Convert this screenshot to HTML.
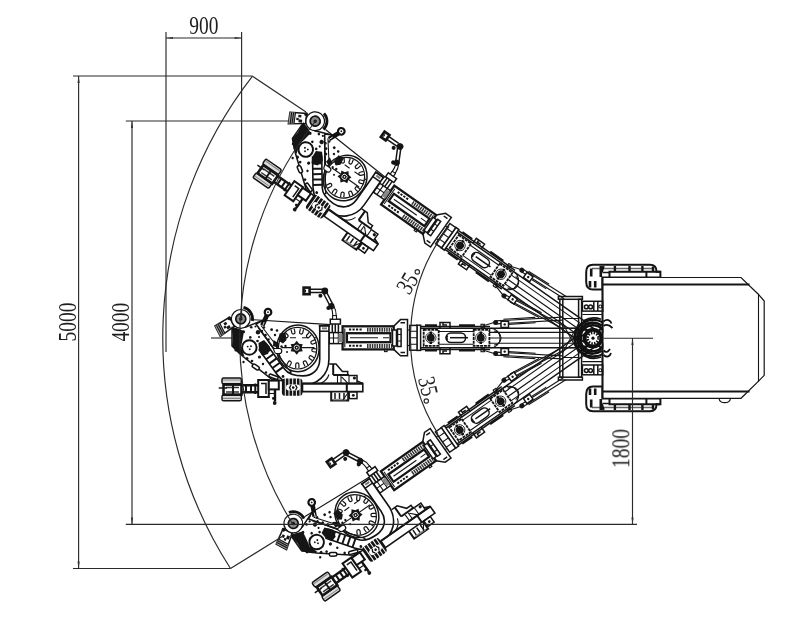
<!DOCTYPE html>
<html><head><meta charset="utf-8"><title>Drilling rig coverage</title>
<style>
html,body{margin:0;padding:0;background:#fff;}
body{width:800px;height:617px;overflow:hidden;font-family:"Liberation Serif",serif;}
svg{display:block}
.l *{fill:none;stroke:#151515;stroke-width:1.1;}
.l .w15{stroke-width:1.5}
.l .w2{stroke-width:2}
.l .k{fill:#fff}
.d,.d *{fill:#151515;stroke:none}
.m *{fill:none;stroke:#2a2a2a;stroke-width:1.15}
.t text{font-family:"Liberation Serif",serif;font-size:24.6px;fill:#1e1e1e;}
</style></head><body>
<svg width="800" height="617" viewBox="0 0 800 617">
<rect width="800" height="617" style="fill:#fff"/>
<defs><filter id="nf" x="-5%" y="-5%" width="110%" height="110%"><feColorMatrix type="saturate" values="0"/></filter><g id="arm">
<g class="l">
<path d="M420.6 326.4H490 M420.6 349.4H490" class="w15"/>
<path d="M420.6 328.3H577 M420.6 347.7H577" class="w15"/>
<path d="M489 332.4H577 M489 338H577 M489 343.3H577"/>
<path d="M439 331.5H473 M439 344.2H473"/>
<path d="M490.5 328.3A9.7 9.7 0 0 1 490.5 347.7"/>
<path d="M494 331A7 7 0 0 1 494 345"/>
<path d="M482.5 326L495 322.2 M482.5 350L495 353.8"/>
<rect x="501" y="321.3" width="7.5" height="6.2" class="k w15"/><rect x="501" y="348.5" width="7.5" height="6.2" class="k w15"/>
<rect x="481" y="324.3" width="3.4" height="3"/><rect x="481" y="348.7" width="3.4" height="3"/>
</g>
<circle class="d" cx="495.6" cy="322.4" r="2.5"/><circle class="d" cx="495.6" cy="353.6" r="2.5"/>
<circle class="d" cx="504.7" cy="324.4" r="1.2"/><circle class="d" cx="504.7" cy="351.6" r="1.2"/>
<g class="l">
<rect x="416.9" y="325.2" width="3.7" height="25.2" class="k w15"/>
<rect x="423.7" y="329.8" width="15" height="16" style="stroke-dasharray:3 0.8;stroke-width:1.8"/>
<rect x="473.7" y="329.8" width="15.7" height="16" style="stroke-dasharray:3 0.8;stroke-width:1.8"/>
<rect x="446.2" y="333" width="19.4" height="9.5" rx="4.7" class="w15"/>
<path d="M450 337.7H468" class="w15"/>
<path d="M447.5 335.5A3 3 0 0 0 447.5 340" style="stroke-width:2.2"/>
<path d="M440 328V322.4H450V328 M443 322.4V325H447 M440 347.7V353.8H450V347.7 M443 353.8V351H447" class="w15"/>
<path d="M425 325.3H437 M459 325.3H475 M425 350.5H437 M459 350.5H475" class="w2"/>
</g>
<circle cx="430.8" cy="337.7" r="5.2" style="fill:none;stroke:#222;stroke-width:0.9"/>
<circle class="d" cx="430.8" cy="337.7" r="3.9"/>
<path d="M430.8 331.5V334 M430.8 341.5V344" style="stroke:#111;stroke-width:2.4"/>
<circle cx="480.8" cy="337.7" r="5.2" style="fill:none;stroke:#222;stroke-width:0.9"/>
<circle class="d" cx="480.8" cy="337.7" r="3.9"/>
<path d="M480.8 331.5V334 M480.8 341.5V344" style="stroke:#111;stroke-width:2.4"/>
<g class="l">
<rect x="409.8" y="325.4" width="7.2" height="24.8" class="k w15"/>
<path d="M409.8 331.2H417 M409.8 337.7H417 M409.8 344.2H417"/>
<path d="M407.5 330H409.8 M407.5 345.5H409.8"/>
<path d="M393.7 326.3L400.5 319.6H407.5V355.8H400.5L393.7 349.4" class="k w15"/>
<path d="M400.5 322.8H405 M400.5 352.6H405" class="w15"/>
<rect x="342.6" y="326.3" width="51.1" height="23.1" class="k" style="stroke-width:2.3"/>
<rect x="346.9" y="333.2" width="43.6" height="9" class="k" style="stroke-width:2.3"/>
<path d="M349 329.6H363" class="w2" style="stroke-dasharray:2.2 1.3"/>
<path d="M367 329.8H392" style="stroke-dasharray:1.5 0.9;stroke-width:4;stroke:#333"/>
<path d="M349 345.8H363" class="w2" style="stroke-dasharray:2.2 1.3"/>
<path d="M367 346H392" style="stroke-dasharray:1.5 0.9;stroke-width:4;stroke:#333"/>
<path d="M350 337.7H378 M383 337.7H389"/>
<rect x="392.5" y="330" width="4" height="16" class="k w15"/>
<rect x="397.5" y="329" width="3.6" height="17.5" class="w15"/>
<path d="M397.5 334.5H401 M397.5 341H401"/>
<path d="M344.8 328.5V347.2"/>
<rect x="384.5" y="349.4" width="2.6" height="2.2"/>
<rect x="329.3" y="332.6" width="13.3" height="11" class="k w15"/>
<path d="M333.5 332.6V343.6 M338.3 332.6V343.6 M329.3 338H342.6"/>
<rect x="338.4" y="334" width="4.2" height="8" style="fill:#888;stroke:none"/>
</g>
<g class="l">
<rect x="330.3" y="319.2" width="10.1" height="4.8" class="k w15"/>
<path d="M332.3 324V332.6 M338.4 324V332.6 M335.3 324V332.6" class="w15"/>
<path d="M332.8 319.2V316C332.8 312 332 309 330.9 306.6 M336.3 319.2V316C336.3 311 335 308 333.3 305"/>
<rect x="332.6" y="315.6" width="3.9" height="3.6" class="k"/>
<path d="M329.8 305.5L323.3 293 M332.8 304.3L326.5 292" class="w15"/>
<path d="M310 289.2H322 M310 292.6H322" class="w15"/>
<rect x="303.6" y="287.6" width="6" height="6.6" class="k" style="stroke-width:2.6"/>
<path d="M305.5 289.6V292.4"/>
</g>
<circle class="d" cx="324.8" cy="291" r="3.4"/><circle class="d" cx="331.4" cy="306.2" r="3.1"/>
<circle class="d" cx="320.4" cy="295.8" r="2"/><circle class="d" cx="328.4" cy="308" r="2.1"/>
<g class="l">
<polygon class="k w15" points="232,326 246,327 262.5,320.5 256,324 291,372 284,381 272,379.5 243,356.5 232,346"/>
</g>
<path d="M324.35 326V359C324.35 373 314 380.5 303 380.5C292 380.5 285 377.5 281 372L262.5 346.5" style="fill:none;stroke:#111;stroke-width:10.8;stroke-linecap:butt"/>
<path d="M324.35 326V359C324.35 373 314 380.5 303 380.5C292 380.5 285 377.5 281 372L262.5 346.5" style="fill:none;stroke:#fff;stroke-width:7.6;stroke-linecap:butt"/>
<g class="l">
<path d="M318.75 325.8H329.95" class="w2"/>
<path d="M319.7 331.2H329" class="w15"/>
<path d="M322 328.4H327" style="stroke:#777;stroke-width:2"/>
<path d="M254 319.8L330.3 324.6"/>
</g>
<g class="l">
<ellipse cx="297.9" cy="348.3" rx="21.2" ry="23.4" class="k w15"/>
<ellipse cx="297.6" cy="348.2" rx="19.2" ry="20.8" style="stroke-width:1.2"/>
<path d="M316.77 352.16L313.19 351.73A1.6 1.6 0 0 1 313.58 348.55L317.15 348.98M312.7 360.75L309.73 358.71A1.6 1.6 0 0 1 311.55 356.07L314.51 358.12M305.1 366.47L303.42 363.28A1.6 1.6 0 0 1 306.26 361.79L307.93 364.98M295.72 368L295.71 364.4A1.6 1.6 0 0 1 298.91 364.4L298.92 368M286.7 365L288.37 361.81A1.6 1.6 0 0 1 291.2 363.29L289.53 366.48M285.35 332.33L287.74 335.02A1.6 1.6 0 0 1 285.35 337.15L282.96 334.45M294.1 328.6L294.96 332.09A1.6 1.6 0 0 1 291.86 332.86L290.99 329.36M303.58 329.35L302.72 332.85A1.6 1.6 0 0 1 299.61 332.09L300.47 328.59M311.62 334.43L309.23 337.13A1.6 1.6 0 0 1 306.83 335.01L309.22 332.31M316.38 342.66L313.01 343.94A1.6 1.6 0 0 1 311.87 340.95L315.24 339.67" style="stroke-width:1.2"/>
<path d="M283.5 337.7H316" style="stroke-dasharray:6 6;stroke-dashoffset:-6.5"/>
<path d="M281.5 347.6H314.5"/>
</g>
<g class="d"><polygon points="302.76,351.2 299.05,351.77 296.7,354.7 294.35,351.77 290.64,351.2 292,347.7 290.64,344.2 294.35,343.63 296.7,340.7 299.05,343.63 302.76,344.2 301.4,347.7"/></g>
<circle cx="296.7" cy="347.7" r="2.6" style="fill:none;stroke:#fff;stroke-width:0.8"/>
<circle cx="296.7" cy="347.7" r="0.8" style="fill:#fff"/>
<g class="l">
<polygon class="k w15" points="215,326 229.4,317.4 234.3,326.4 220.3,336.4"/>
<polygon points="215,326 219.4,323.4 225.3,333 220.3,336.4" style="fill:#999;stroke:none"/>
<path d="M216.5 325.2L221.8 335.4 M218.2 324.2L223.3 334.3 M219.8 323.2L225 333.4"/>
<path d="M258 327.5L289 370 M261 325.5L279 349"/>
</g>
<g class="d"><rect x="224" y="322.5" width="3" height="2.6" transform="rotate(-30 225 324)"/><rect x="226.5" y="326" width="3.6" height="3" transform="rotate(-30 228 327)"/><rect x="223.6" y="326.5" width="2.4" height="2.4" transform="rotate(-30 224 327)"/><circle cx="229.4" cy="318.4" r="1.9"/></g>
<polygon class="d" points="231.5,326.5 238,328.5 244,331 242.5,340 241,347 244.5,356.5 239,354 232,346.5 233,338"/>
<polygon class="d" points="258.5,343 264,340 270,347 268,354 262,355.5 259,350"/>
<polygon class="d" points="279.5,333.5 285.5,332.5 286.5,340 283,343.5 279,341"/>
<polygon class="d" points="273.5,340 279,343.5 277.5,347.5 273,346"/>
<g class="l" transform="translate(271.7 359.2) rotate(54)">
<path d="M-14 -4.5V4.5 M-8.6 -4.5V4.5 M-3.2 -4.5V4.5 M2.2 -4.5V4.5 M7.6 -4.5V4.5 M13 -4.5V4.5" class="w2"/>
<path d="M-16 -7.6H16" />
</g>
<path d="M273.5 348.5H279.5C282.5 348.5 282.5 353.5 279.5 353.5H276.5C274.5 353.5 274 351 273.5 348.5Z" style="fill:#fff;stroke:#111;stroke-width:1.2"/>
<rect x="252" y="365.2" width="7.6" height="3.6" rx="1.8" transform="rotate(32 255.8 367)" style="fill:#fff;stroke:#111;stroke-width:1.5"/>
<rect x="269" y="375" width="9.5" height="3" rx="1.5" transform="rotate(20 273 376)" style="fill:#fff;stroke:#111;stroke-width:1.5"/>
<g class="d">
<circle cx="251.2" cy="327.3" r="1.3"/>
<circle cx="243.6" cy="331.7" r="1.5"/>
<circle cx="258" cy="332.2" r="2.2"/>
<circle cx="250.3" cy="337.4" r="1.3"/>
<circle cx="257.5" cy="341" r="1.3"/>
<circle cx="265.5" cy="343.8" r="1.3"/>
<circle cx="265.5" cy="335" r="1.3"/>
<circle cx="271.6" cy="329.7" r="1.4"/>
<circle cx="247" cy="358.5" r="1.5"/>
<circle cx="252" cy="361" r="1.3"/>
<circle cx="259.5" cy="357" r="1.6"/>
<circle cx="264" cy="327.5" r="1.2"/>
<circle cx="275" cy="335" r="1.2"/>
<circle cx="285.5" cy="346" r="1.2"/>
<circle cx="287" cy="352" r="1"/>
<circle cx="236" cy="350" r="1.6"/>
<circle cx="283" cy="376.5" r="1.4"/>
<circle cx="266" cy="372.5" r="1.3"/>
<circle cx="246.5" cy="323.5" r="1.2"/>
<circle cx="255.5" cy="326.5" r="1.1"/>
<circle cx="262" cy="331" r="1.2"/>
<circle cx="254" cy="344.5" r="1.2"/>
<circle cx="259" cy="337" r="1.1"/>
<circle cx="268.5" cy="339.5" r="1.3"/>
<circle cx="277" cy="330.5" r="1.3"/>
<circle cx="281.5" cy="346.5" r="1.2"/>
<circle cx="243.5" cy="362" r="1.2"/>
<circle cx="263" cy="364" r="1.2"/>
</g>
<path d="M243.5 307.4A11.8 11.8 0 0 1 252.4 321" style="fill:none;stroke:#111;stroke-width:2.8"/>
<circle cx="240.8" cy="318.9" r="9.4" style="fill:#fff;stroke:#111;stroke-width:1.2"/>
<circle cx="240.8" cy="318.9" r="5" style="fill:#8a8a8a;stroke:#111;stroke-width:1.7"/>
<circle cx="240.8" cy="318.9" r="1.7" class="d"/>
<circle cx="249.3" cy="347.5" r="7.3" style="fill:#fff;stroke:#111;stroke-width:2"/>
<g class="d"><circle cx="247.7" cy="346.6" r="0.95"/><circle cx="251" cy="346.3" r="0.95"/><circle cx="249.7" cy="349.3" r="0.95"/></g>
<path d="M267.3 314.5L262.3 325.5" style="stroke:#111;stroke-width:4.6;fill:none"/>
<path d="M264.2 322L262.8 325.5" style="stroke:#fff;stroke-width:0.8;fill:none"/>
<circle cx="268" cy="312.2" r="3.3" style="fill:#fff;stroke:#111;stroke-width:2.2"/>
<circle cx="268" cy="312.2" r="0.9" class="d"/>
<g class="l">
<path class="k" d="M302.5 383.6H362.8V391.6H302.5Z" style="stroke-width:1.6"/>
<path d="M302.5 383.4H362.8" class="w2"/>
<path d="M346.8 383.4V391.6" class="w2"/>
<rect x="222" y="378" width="19.3" height="5.8" rx="1.6" style="fill:#ddd" class="w15"/>
<rect x="222" y="395" width="19.3" height="5.8" rx="1.6" style="fill:#ddd" class="w15"/>
<path d="M223 380H240 M223 398.4H240" style="stroke:#888"/>
<rect x="223.5" y="384.6" width="18" height="10" class="k" style="stroke-width:2.6"/>
<path d="M226 387.6H239 M226 391.9H239" class="w15" style="stroke:#333"/>
<path d="M218.7 388H227" class="w15"/>
<path d="M233 384.6V394.6" class="w2"/>
<path d="M241.5 385.2H258 M241.5 392.3H258" style="stroke-width:2.4"/>
<path d="M246 385V392.5 M251 385V392.5 M255.3 383.5V394" class="w2"/>
<rect class="k w2" x="258.2" y="380" width="10.6" height="17"/>
<path d="M261 383.5H266V394" class="w15"/>
<rect class="k w2" x="268.8" y="380.6" width="10" height="8.8"/>
<path d="M268.8 393.5H276"/>
<path d="M331.2 391.6V400.5H348.2V391.6" class="w2"/>
<path d="M335 393V399 M339.5 393V399 M344 393V399" class="w15"/>
<path d="M333 399.6H346" class="w15" style="stroke:#888"/>
<rect x="349.2" y="391.8" width="7.8" height="6.8" class="w15"/>
<path d="M343 400L348.2 392.5"/>
<path class="w15" d="M329.2 364H336L342.4 371.5H347.7V374.5 M349 375.4H357V382.8 M357 381L362.8 383.4"/>
<path d="M333.2 364V375" class="w2"/>
<path d="M333.2 375H349" class="w2"/>
<path d="M341.9 377.2L347.7 383.2 M337.5 376V383 M341 376V383 M349 375.4V383.4"/>
<path d="M329 374.5C327.5 379 324 382 321 383" />
</g>
<circle class="d" cx="354.4" cy="378" r="1.6"/><circle class="d" cx="353.3" cy="395.3" r="1.4"/>
<path d="M275 389.4V401.5" style="stroke:#111;stroke-width:2.4;fill:none"/>
<circle class="d" cx="274.7" cy="403" r="1.9"/><circle class="d" cx="273.3" cy="398.4" r="1.3"/>
<rect class="d" x="281.9" y="378.4" width="20.6" height="17.4" rx="3.4"/>
<path d="M285.3 377.5V396.6 M289 377.5V396.6 M292.7 377.5V396.6 M296.4 377.5V396.6 M300 377.5V396.6" style="stroke:#fff;stroke-width:1;fill:none"/>
<rect x="286" y="384.6" width="14.2" height="6" rx="3" style="fill:#fff"/>
<path d="M291 385L289.5 387.6L291 390.3 M295.5 385L297 387.6L295.5 390.3" style="stroke:#111;stroke-width:1.3;fill:none"/>
<circle class="d" cx="293.2" cy="387.6" r="1.3"/>
</g></defs>
<g class="l">
<g>
<path class="k w2" d="M593 264.8H650Q656.5 264.8 656.5 271.7H660.4V277.5H602.5V289.6H593Q586.2 289.6 586.2 282V272Q586.2 264.8 593 264.8Z"/>
<path d="M592 268.4H653" class="w15" style="stroke:#666"/>
<path d="M609.5 277.5V271.8H646.4V277.5 M646.4 271.8H660.4" class="w2"/>
<path d="M603.6 266L601.6 272 M614.9 266V272 M629.5 266V272 M642.4 266V272 M653 266.5V272" style="stroke-width:2.4"/>
<path d="M591.2 268.5V276.5 M600.8 266V277 M590 281V287.6 M595.2 281V287.6" style="stroke-width:2.6"/>
<path d="M602.5 272.5H609.5" class="w15"/>
</g>
<g transform="translate(0 676) scale(1 -1)">
<path class="k w2" d="M593 264.8H650Q656.5 264.8 656.5 271.7H660.4V277.5H602.5V289.6H593Q586.2 289.6 586.2 282V272Q586.2 264.8 593 264.8Z"/>
<path d="M592 268.4H653" class="w15" style="stroke:#666"/>
<path d="M609.5 277.5V271.8H646.4V277.5 M646.4 271.8H660.4" class="w2"/>
<path d="M603.6 266L601.6 272 M614.9 266V272 M629.5 266V272 M642.4 266V272 M653 266.5V272" style="stroke-width:2.4"/>
<path d="M591.2 268.5V276.5 M600.8 266V277 M590 281V287.6 M595.2 281V287.6" style="stroke-width:2.6"/>
<path d="M602.5 272.5H609.5" class="w15"/>
</g>
<path class="k" d="M602.5 277.5H741L757.8 293.7L764.2 301V375.3L757.8 381.8L741 398.3H602.5Z" style="stroke-width:1.2"/>
<path d="M602.5 277.5V398.3" class="w2"/>
<path d="M602.5 284.5H749.5 M602.5 391.6H749.5" class="w2"/>
<path d="M758.5 293.7V381.8"/>
<path d="M719 398.3A5.8 5 0 0 0 730.5 398.3"/>
</g>
<g class="l">
<path d="M495.51 320.9L561.91 317.1M495.69 323.9L562.09 320.1"/><path d="M503.72 324.64L535.59 322.82M503.41 319.25L535.29 317.42"/>
<path d="M495.69 352.1L562.09 355.9M495.51 355.1L561.91 358.9"/><path d="M503.41 356.75L535.29 358.58M503.72 351.36L535.59 353.18"/>
<path d="M522.69 268.95L565.8 296.23M521.09 271.48L564.2 298.77"/><path d="M525.62 275.77L546.31 288.87M528.51 271.21L549.2 284.3"/>
<path d="M504.7 294.45L565.21 326.68M503.29 297.1L563.79 329.32"/><path d="M509.99 302.02L539.03 317.49M512.53 297.26L541.57 312.73"/>
<path d="M521.09 404.52L564.2 377.23M522.69 407.05L565.8 379.77"/><path d="M528.51 404.79L549.2 391.7M525.62 400.23L546.31 387.13"/>
<path d="M503.29 378.9L563.79 346.68M504.7 381.55L565.21 349.32"/><path d="M512.53 378.74L541.57 363.27M509.99 373.98L539.03 358.51"/>
</g>
<use href="#arm" transform="rotate(35 591.5 338)"/>
<use href="#arm" transform="rotate(-35 591.5 338)"/>
<use href="#arm"/>
<g class="m">
<path d="M166 32V352 M241.6 32V319"/>
<path d="M166 38H241.6"/>
<path d="M73 76H252.5 M73 568.5H230.5 M78.6 76V568.5"/>
<path d="M125.8 121H288 M125.8 524.4H637 M132 121V524.4"/>
<path d="M604 338.2H653 M632.5 338.2V524.4"/>
<path d="M211 338H233"/>
<path d="M252.5 76.2A426.5 426.5 0 0 0 230.5 568.5"/>
<path d="M316 120.5A350.5 350.5 0 0 0 293 524.5"/>
<path d="M252.5 76.2L306 112 M230.5 568.5L283 536"/>
<path d="M449.06 226.32A181 181 0 0 0 437.84 433.65"/>
</g>
<g style="fill:#333">
<polygon points="166,38 173,36.9 173,39.1"/>
<polygon points="241.6,38 234.6,39.1 234.6,36.9"/>
<polygon points="78.6,76 79.7,83 77.5,83"/>
<polygon points="78.6,568.5 77.5,561.5 79.7,561.5"/>
<polygon points="132,121 133.1,128 130.9,128"/>
<polygon points="132,524.4 130.9,517.4 133.1,517.4"/>
<polygon points="632.5,338 633.6,345 631.4,345"/>
<polygon points="632.5,524.4 631.4,517.4 633.6,517.4"/>
</g>
<g class="t" filter="url(#nf)">
<text transform="translate(203.8 34.3) scale(0.79 1)" text-anchor="middle">900</text>
<text transform="translate(76 322) rotate(-90) scale(0.79 1)" text-anchor="middle">5000</text>
<text transform="translate(129.4 322.2) rotate(-90) scale(0.79 1)" text-anchor="middle">4000</text>
<text transform="translate(629.3 448.5) rotate(-90) scale(0.79 1)" text-anchor="middle">1800</text>
<text transform="translate(414.3 287.5) rotate(-59) scale(0.79 1)" text-anchor="middle">35</text>
<text transform="translate(420.3 388.1) rotate(77) scale(0.79 1)" text-anchor="middle">35</text>
</g>
<g class="m"><circle cx="417.3" cy="271.9" r="2.2"/><circle cx="426.3" cy="401" r="2.2"/></g>
<g class="l">
<rect x="558.4" y="296.5" width="24" height="2.8" class="w15"/><rect x="558.4" y="377.2" width="24" height="2.8" class="w15"/>
<rect x="559.8" y="299.3" width="3" height="77.9" class="w15"/><rect x="578.6" y="299.3" width="3" height="77.9" class="w15"/>
<path d="M562.8 323.5L578.6 352.5 M562.8 352.5L578.6 323.5 M562.8 318.5H578.6 M562.8 357.5H578.6 M562.8 328.3H578.6 M562.8 347.7H578.6"/>
<rect x="582.4" y="301.3" width="20.3" height="9.8" class="w15"/>
<path d="M593.8 301.3V311.1 M597.8 301.3V311.1" class="w15"/>
<circle cx="586.3" cy="306.9" r="1.9" class="w15"/><circle cx="590.6" cy="306.9" r="1.9" class="w15"/><circle cx="600.3" cy="306.5" r="1.5"/>
<rect x="582.4" y="365" width="20.3" height="9.8" class="w15"/>
<path d="M593.8 365V374.8 M597.8 365V374.8" class="w15"/>
<circle cx="586.3" cy="370.6" r="1.9" class="w15"/><circle cx="590.6" cy="370.6" r="1.9" class="w15"/><circle cx="600.3" cy="370.2" r="1.5"/>
<path d="M582.4 314.5H602.7 M582.4 361.6H602.7"/>
</g>
<clipPath id="pc"><rect x="540" y="300" width="63.4" height="80"/></clipPath>
<g clip-path="url(#pc)">
<g transform="rotate(-35 593 338.2)" style="fill:none;stroke:#111">
<path d="M586 321.5A18 18 0 0 0 586 355" style="stroke-width:2.2"/>
<path d="M593 322.8A15.4 15.4 0 0 0 593 353.6" style="stroke-width:2.4"/>
<path d="M577 330H589 M577 346.4H589" style="stroke-width:1.6"/>
</g>
<g transform="rotate(0 593 338.2)" style="fill:none;stroke:#111">
<path d="M586 321.5A18 18 0 0 0 586 355" style="stroke-width:2.2"/>
<path d="M593 322.8A15.4 15.4 0 0 0 593 353.6" style="stroke-width:2.4"/>
<path d="M577 330H589 M577 346.4H589" style="stroke-width:1.6"/>
</g>
<g transform="rotate(35 593 338.2)" style="fill:none;stroke:#111">
<path d="M586 321.5A18 18 0 0 0 586 355" style="stroke-width:2.2"/>
<path d="M593 322.8A15.4 15.4 0 0 0 593 353.6" style="stroke-width:2.4"/>
<path d="M577 330H589 M577 346.4H589" style="stroke-width:1.6"/>
</g>
<path d="M580.5 324.5A18.6 18.6 0 0 1 605.5 324.5 M580.5 351.9A18.6 18.6 0 0 0 605.5 351.9" style="fill:none;stroke:#111;stroke-width:2"/>
<path d="M584 320.5A20.5 20.5 0 0 1 601 319.3 M584 355.9A20.5 20.5 0 0 0 601 357.1" style="fill:none;stroke:#111;stroke-width:1.6"/>
<path d="M583 327L588 331 M603 327L598.5 331 M583 349.4L588 345.4 M603 349.4L598.5 345.4" style="fill:none;stroke:#111;stroke-width:2"/>
<circle cx="593" cy="338.2" r="13" style="fill:none;stroke:#111;stroke-width:2.6"/>
</g>
<circle cx="593" cy="338.2" r="8.4" style="fill:#fff;stroke:#111;stroke-width:4"/>
<circle cx="593" cy="338.2" r="5.3" style="fill:none;stroke:#111;stroke-width:2.4;stroke-dasharray:1.5 1.27"/>
<circle cx="593" cy="338.2" r="1.6" style="fill:#111"/>
<path d="M603.5 321.5C607 318.5 610.5 320 611.5 323.5 M603.5 326C607 323.5 609.5 325 612.5 328 M603.5 355C607 358 610 356.5 611 353 M603.5 350.5C606 353 608 352 610 349" style="fill:none;stroke:#111;stroke-width:1.8"/>
</svg>
</body></html>
